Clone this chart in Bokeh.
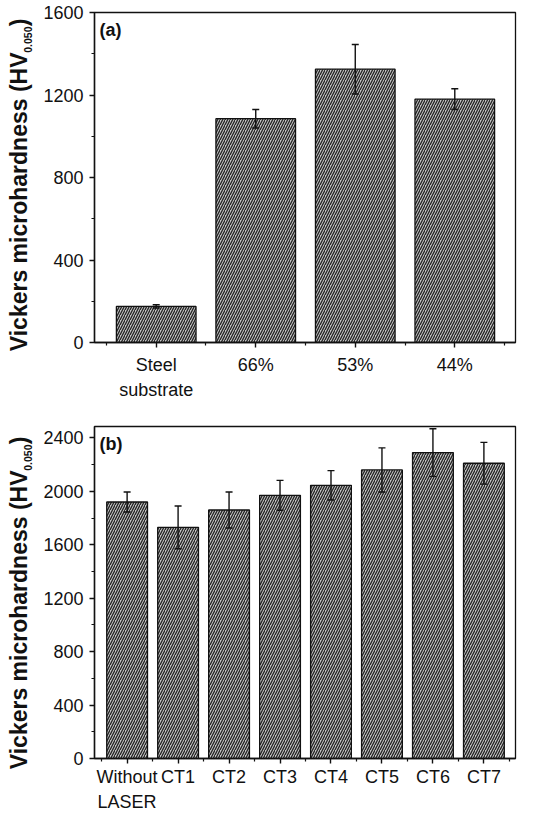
import math
from bokeh.plotting import figure
from bokeh.models import Range1d, FixedTicker, Whisker, TeeHead, ColumnDataSource, Label
from bokeh.layouts import column, row
from bokeh.embed import file_html
from bokeh.resources import INLINE

# ---- data ----
cats_a = ["Steel\nsubstrate", "66%", "53%", "44%"]
hv_a = [175, 1085, 1325, 1180]
err_a = [8, 45, 120, 50]

cats_b = ["Without\nLASER", "CT1", "CT2", "CT3", "CT4", "CT5", "CT6", "CT7"]
hv_b = [1920, 1730, 1860, 1970, 2045, 2160, 2290, 2210]
err_b = [75, 160, 135, 112, 110, 165, 178, 156]

yticks_a = [0, 400, 800, 1200, 1600]
yticks_b = [0, 400, 800, 1200, 1600, 2000, 2400]

FONT = "Liberation Sans"
TXT = "#111111"
LAB_W = 40
FRAME_W = 421


def ylabel_fig(height, frame_bottom, frame_h):
    f = figure(frame_width=LAB_W, frame_height=height,
               x_range=Range1d(0, LAB_W), y_range=Range1d(0, height),
               output_backend="svg", toolbar_location=None, min_border=0,
               background_fill_color="white", border_fill_color="white")
    f.axis.visible = False
    f.grid.visible = False
    f.outline_line_color = None
    main_end = frame_bottom + frame_h - 28
    f.add_layout(Label(x=18, y=main_end,
                       text="Vickers microhardness (HV", angle=math.pi / 2,
                       text_font=FONT, text_font_size="23px", text_font_style="bold",
                       text_color=TXT, text_align="right", text_baseline="middle"))
    f.add_layout(Label(x=27, y=main_end + 26,
                       text="0.050", angle=math.pi / 2,
                       text_font=FONT, text_font_size="10.5px", text_font_style="bold",
                       text_color=TXT, text_align="right", text_baseline="middle"))
    f.add_layout(Label(x=18, y=main_end + 34,
                       text=")", angle=math.pi / 2,
                       text_font=FONT, text_font_size="23px", text_font_style="bold",
                       text_color=TXT, text_align="right", text_baseline="middle"))
    return f


def make_panel(cats, vals, errs, xr, yr, yticks, tag, frame_h, top, bottom, standoff):
    n = len(cats)
    xs = list(range(1, n + 1))
    p = figure(frame_width=FRAME_W, frame_height=frame_h,
               x_range=Range1d(*xr), y_range=Range1d(*yr),
               output_backend="svg", toolbar_location=None,
               min_border_left=54, min_border_right=2,
               min_border_top=top, min_border_bottom=bottom,
               background_fill_color="white", border_fill_color="white")
    p.xgrid.visible = False
    p.ygrid.visible = False
    p.outline_line_color = "#111111"
    p.outline_line_width = 1.3
    p.outline_line_alpha = 1.0

    src = ColumnDataSource(dict(x=xs, top=vals,
                                upper=[v + e for v, e in zip(vals, errs)],
                                lower=[v - e for v, e in zip(vals, errs)]))
    p.vbar(x="x", top="top", width=0.8, source=src,
           fill_color="#c4c4c4", line_color="#111111", line_width=1.3,
           hatch_pattern="/", hatch_color="#222222", hatch_scale=5, hatch_weight=1.3)

    w = Whisker(base="x", upper="upper", lower="lower", source=src,
                line_color="#111111", line_width=1.4,
                upper_head=TeeHead(size=7, line_color="#111111", line_width=1.4),
                lower_head=TeeHead(size=7, line_color="#111111", line_width=1.4),
                level="annotation")
    p.add_layout(w)

    xa = p.xaxis[0]
    xa.ticker = FixedTicker(ticks=xs, minor_ticks=[x - 0.5 for x in xs] + [n + 0.5])
    xa.major_label_overrides = {x: c for x, c in zip(xs, cats)}
    ya = p.yaxis[0]
    step = yticks[1] - yticks[0]
    ya.ticker = FixedTicker(ticks=yticks,
                            minor_ticks=[t + step / 2 for t in yticks[:-1]])
    for ax in (xa, ya):
        ax.axis_line_color = "#111111"
        ax.axis_line_width = 1.4
        ax.major_tick_line_color = "#111111"
        ax.major_tick_line_width = 1.4
        ax.minor_tick_line_color = "#111111"
        ax.minor_tick_line_width = 1.2
        ax.major_tick_in = 0
        ax.major_tick_out = 5
        ax.minor_tick_in = 0
        ax.minor_tick_out = 3
        ax.major_label_text_font = FONT
        ax.major_label_text_font_size = "18px"
        ax.major_label_text_color = TXT
    xa.major_label_standoff = standoff
    xa.major_label_text_line_height = 1.25
    ya.major_label_standoff = 6

    p.add_layout(Label(x=5, y=frame_h - 17, x_units="screen", y_units="screen",
                       text=tag, text_font=FONT, text_font_size="18px",
                       text_font_style="bold", text_color=TXT,
                       text_align="left", text_baseline="middle"))
    return p


FA_H, FA_TOP, FA_BOT = 330, 12, 68
FB_H, FB_TOP, FB_BOT = 332, 16, 54

pa = make_panel(cats_a, hv_a, err_a, (0.38, 4.61), (0, 1600), yticks_a,
                "(a)", FA_H, FA_TOP, FA_BOT, 7)
pb = make_panel(cats_b, hv_b, err_b, (0.36, 8.62), (0, 2485), yticks_b,
                "(b)", FB_H, FB_TOP, FB_BOT, 3)

la = ylabel_fig(FA_H + FA_TOP + FA_BOT, FA_BOT, FA_H)
lb = ylabel_fig(FB_H + FB_TOP + FB_BOT, FB_BOT, FB_H)

layout = column(row(la, pa, spacing=0), row(lb, pb, spacing=0), spacing=0)
open("out.html", "w").write(file_html(layout, INLINE))
